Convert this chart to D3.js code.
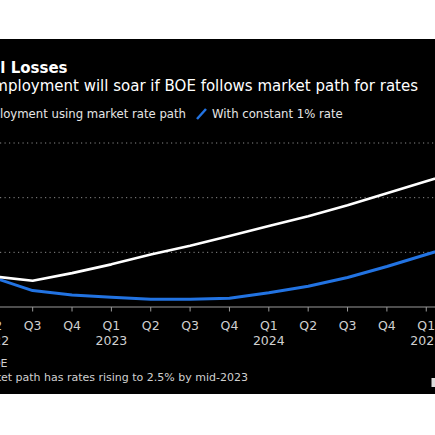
<!DOCTYPE html>
<meta charset="utf-8">
<script src="https://d3js.org/d3.v7.min.js"></script>
<style>
  body { margin: 0; background: #fff; }
  svg { display: block; font-family: "DejaVu Sans", sans-serif; }
</style>
<div id="my_dataviz"></div>
<script>
  var width = 435
  var height = 435

  // quarters Q2 2022 .. Q2 2025
  var quarters = ["Q2", "Q3", "Q4", "Q1", "Q2", "Q3", "Q4", "Q1", "Q2", "Q3", "Q4", "Q1", "Q2"]
  var years = ["2022", "", "", "2023", "", "", "", "2024", "", "", "", "2025", ""]
  // unemployment rate, %
  var marketPath = [3.78, 3.74, 3.81, 3.89, 3.98, 4.06, 4.15, 4.24, 4.33, 4.43, 4.54, 4.65, 4.76]
  var constantRate = [3.77, 3.65, 3.61, 3.59, 3.57, 3.57, 3.58, 3.63, 3.69, 3.77, 3.87, 3.98, 4.09]
  var yTicks = [4.0, 4.5, 5.0]

  var svg = d3.select("#my_dataviz")
    .append("svg")
      .attr("width", width)
      .attr("height", height)

  svg.append("rect")
    .attr("x", 0).attr("y", 39)
    .attr("width", width).attr("height", 355)
    .attr("fill", "#000")

  // the chart is cropped on both sides, so the plot runs past the edges
  var x = d3.scaleLinear()
    .domain([0, quarters.length - 1])
    .range([-6.7, -6.7 + 39.36 * (quarters.length - 1)])

  var y = d3.scaleLinear()
    .domain([3.5, 5.0])
    .range([307, 143])

  // grid (its labels are outside the crop)
  svg.append("g")
    .selectAll("line")
    .data(yTicks)
    .enter()
    .append("line")
      .attr("x1", 0).attr("x2", width)
      .attr("y1", function(d){ return y(d) })
      .attr("y2", function(d){ return y(d) })
      .attr("stroke", "#8a8a8a")
      .attr("stroke-width", 1)
      .attr("stroke-dasharray", "1.2,3.3")

  // x axis
  var xAxis = svg.append("g")
  xAxis.append("line")
    .attr("x1", 0).attr("x2", width)
    .attr("y1", y(3.5)).attr("y2", y(3.5))
    .attr("stroke", "#9a9a9a")
    .attr("stroke-width", 1)

  var tick = xAxis.selectAll("g.tick")
    .data(quarters)
    .enter()
    .append("g")
      .attr("class", "tick")
      .attr("transform", function(d, i){ return "translate(" + x(i) + "," + y(3.5) + ")" })

  tick.append("line")
    .attr("y1", 0).attr("y2", 4.5)
    .attr("stroke", "#9a9a9a")

  tick.append("text")
    .attr("y", 23)
    .attr("text-anchor", "middle")
    .attr("fill", "#d0d0d0")
    .style("font-size", "12.5px")
    .text(function(d){ return d })

  tick.append("text")
    .attr("y", 38)
    .attr("text-anchor", "middle")
    .attr("fill", "#d0d0d0")
    .style("font-size", "12.5px")
    .text(function(d, i){ return years[i] })

  // lines
  var line = d3.line()
    .x(function(d, i){ return x(i) })
    .y(function(d){ return y(d) })

  svg.append("path")
    .datum(constantRate)
    .attr("fill", "none")
    .attr("stroke", "#2273e2")
    .attr("stroke-width", 3)
    .attr("stroke-linejoin", "round")
    .attr("d", line)

  svg.append("path")
    .datum(marketPath)
    .attr("fill", "none")
    .attr("stroke", "#fff")
    .attr("stroke-width", 2.6)
    .attr("stroke-linejoin", "round")
    .attr("d", line)

  // titles
  svg.append("text")
    .attr("x", 67.5).attr("y", 73)
    .attr("text-anchor", "end")
    .attr("fill", "#fff")
    .style("font-size", "15px")
    .style("font-weight", "bold")
    .text("Painful Losses")

  svg.append("text")
    .attr("x", 418).attr("y", 91)
    .attr("text-anchor", "end")
    .attr("fill", "#fff")
    .style("font-size", "15px")
    .text("UK unemployment will soar if BOE follows market path for rates")

  // legend
  var legend = svg.append("g")
  legend.append("line")
    .attr("x1", -14).attr("y1", 119).attr("x2", -5).attr("y2", 109)
    .attr("stroke", "#fff").attr("stroke-width", 2.5)
  legend.append("text")
    .attr("x", 186).attr("y", 118)
    .attr("text-anchor", "end")
    .attr("fill", "#e6e6e6")
    .style("font-size", "11.7px")
    .text("Unemployment using market rate path")
  legend.append("line")
    .attr("x1", 197).attr("y1", 119).attr("x2", 206).attr("y2", 109)
    .attr("stroke", "#2273e2").attr("stroke-width", 2.5)
  legend.append("text")
    .attr("x", 212).attr("y", 118)
    .attr("fill", "#e6e6e6")
    .style("font-size", "11.7px")
    .text("With constant 1% rate")

  // footer
  svg.append("text")
    .attr("x", 7.5).attr("y", 367)
    .attr("text-anchor", "end")
    .attr("fill", "#d0d0d0")
    .style("font-size", "11px")
    .text("Source: BOE")

  svg.append("text")
    .attr("x", 248).attr("y", 381)
    .attr("text-anchor", "end")
    .attr("fill", "#d0d0d0")
    .style("font-size", "11px")
    .text("Note: Market path has rates rising to 2.5% by mid-2023")

  svg.append("rect")
    .attr("x", 431.5).attr("y", 378)
    .attr("width", 4).attr("height", 9)
    .attr("fill", "#ddd")
</script>
